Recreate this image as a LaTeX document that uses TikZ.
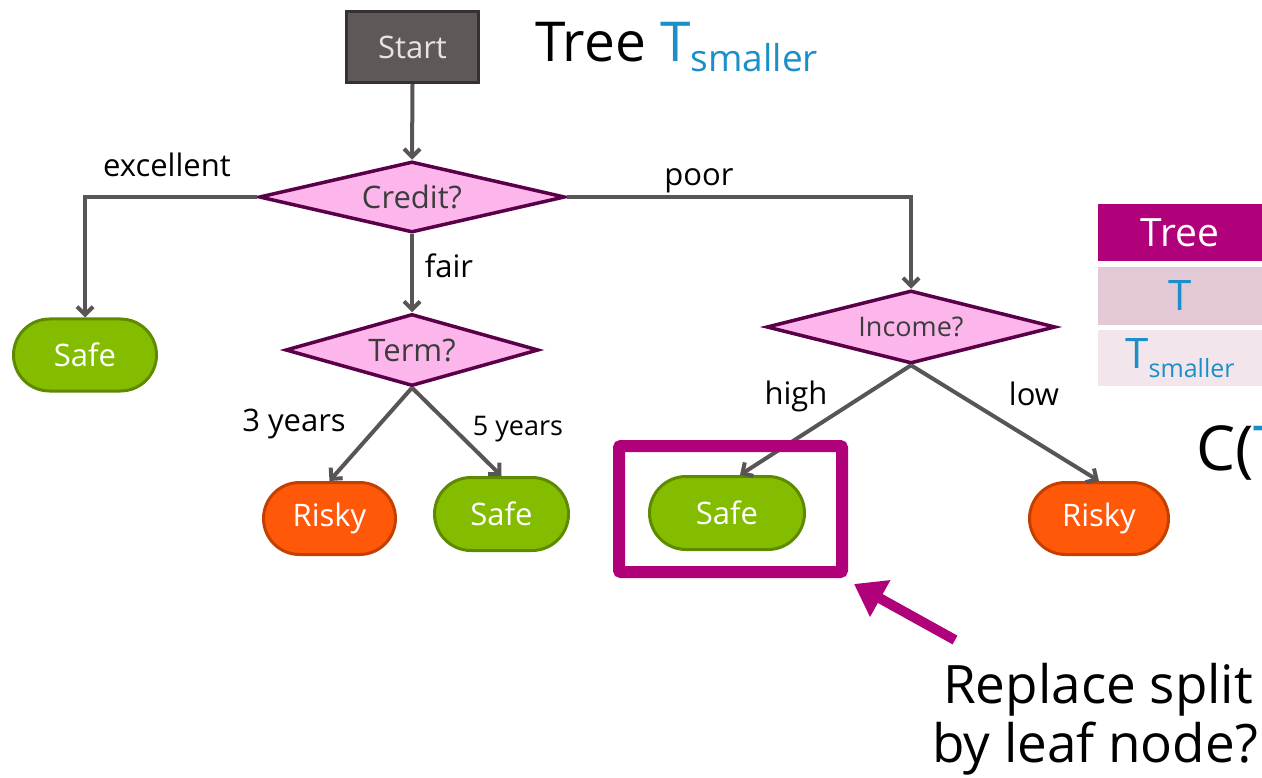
\documentclass[tikz,border=0pt]{standalone}
\usepackage{fontspec}
\setmainfont{Open Sans}
\usetikzlibrary{shapes.geometric,shapes.misc,arrows.meta,calc}

\definecolor{startfill}{HTML}{5F5858}
\definecolor{startline}{HTML}{363232}
\definecolor{starttext}{HTML}{E4E4E4}
\definecolor{dfill}{HTML}{FDB6EC}
\definecolor{dline}{HTML}{5A0048}
\definecolor{dtext}{HTML}{3C3C3C}
\definecolor{safefill}{HTML}{84BD00}
\definecolor{safeline}{HTML}{5E8A00}
\definecolor{riskfill}{HTML}{FF5808}
\definecolor{riskline}{HTML}{C44000}
\definecolor{arrgray}{HTML}{5A5555}
\definecolor{mag}{HTML}{B0007A}
\definecolor{tblue}{HTML}{1B8FC8}
\definecolor{rowa}{HTML}{E3C9D6}
\definecolor{rowb}{HTML}{F2E5EC}

\begin{document}
\begin{tikzpicture}[x=1pt,y=-1pt,
  fs/.style={font=\fontsize{#1}{#1}\selectfont},
  startbox/.style={rectangle, draw=startline, fill=startfill, line width=3pt,
    text=starttext, inner sep=0pt, minimum width=132pt, minimum height=71pt, fs=31},
  decision/.style={diamond, aspect=4, draw=dline, fill=dfill, line width=3.5pt,
    inner sep=0pt, text=dtext},
  leaf/.style={rounded rectangle, line width=3pt, text=white, inner sep=0pt,
    minimum height=72pt, fs=31},
  safeleaf/.style={leaf, draw=safeline, fill=safefill},
  riskleaf/.style={leaf, draw=riskline, fill=riskfill},
  arr/.style={draw=arrgray, line width=4pt, miter limit=10,
    -{Straight Barb[length=8pt,width=16pt]}},
  lbl/.style={anchor=base, inner sep=0pt, fs=31},
  cell/.style={rectangle, inner sep=0pt, minimum width=164pt},
]
\useasboundingbox (0,0) rectangle (1262,778);
\clip (0,0) rectangle (1262,778);

% title
\node[anchor=base west, inner sep=0pt, fs=55] (title) at (535,62)
  {Tree \textcolor{tblue}{T\raisebox{-10pt}{\fontsize{37}{37}\selectfont smaller}}};

% tree nodes
\node[startbox] (start) at (412.5,47) {Start};
\node[decision, fs=31, minimum width=306pt, minimum height=71pt] (credit) at (412,197) {Credit?};
\node[decision, fs=31, minimum width=253pt, minimum height=72pt] (term) at (412,350) {Term?};
\node[decision, fs=27, minimum width=289pt, minimum height=73pt] (income) at (911,327) {Income?};

\node[safeleaf, minimum width=143pt] (safeL) at (85,355) {Safe};
\node[riskleaf, minimum width=132pt] (risky1) at (329.5,518.5) {Risky};
\node[safeleaf, minimum width=134pt, minimum height=73pt] (safe2) at (501.5,514) {Safe};
\node[safeleaf, minimum width=155pt, minimum height=73pt] (safe3) at (727,513) {Safe};
\node[riskleaf, minimum width=139pt] (risky2) at (1099,518.5) {Risky};

% connectors
\draw[arr] (start.south) -- (credit.north);
\draw[arr] (credit.west) -| (safeL.north);
\draw[arr] (credit.east) -| (income.north);
\draw[arr] (credit.south) -- (term.north);
\draw[arr] (term.south) -- (risky1.north);
\draw[arr] (term.south) -- (safe2.north);
\draw[arr] (income.south) -- ($(safe3.north)+(13,0)$);
\draw[arr] (income.south) -- (risky2.north);

% branch labels
\node[lbl] (lexc) at (167,177) {excellent};
\node[lbl] (lpoor) at (699,186) {poor};
\node[lbl] (lfair) at (449,278) {fair};
\node[lbl] (l3y) at (294,431) {3 years};
\node[lbl, fs=27] (l5y) at (518,435) {5 years};
\node[lbl] (lhigh) at (796,404) {high};
\node[lbl] (llow) at (1034,405) {low};

% highlighted leaf and pointer
\node[rectangle, draw=mag, line width=12pt, rounded corners=2pt, inner sep=0pt,
  minimum width=223pt, minimum height=126pt] (hl) at (730.5,509) {};
\coordinate (ptr) at (955,640);
\draw[draw=mag, fill=mag, line width=10pt, -{Triangle[length=30pt,width=40pt]}]
  (ptr) -- ($(hl.south east)+(6,6)$);

\node[anchor=base west, inner sep=0pt, fs=53] (q1) at (943,703) {Replace split};
\node[anchor=base west, inner sep=0pt, fs=53] (q2) at (932,762) {by leaf node?};

% cost table
\node[cell, fill=mag, minimum height=57pt, text=white, fs=39] (th) at (1180,232.5) {Tree};
\node[cell, fill=rowa, minimum height=58pt, text=tblue, fs=42] (t1) at (1180,296) {T};
\node[cell, fill=rowb, minimum height=56pt, text=tblue, fs=42] (t2) at (1180,358)
  {T\raisebox{-9pt}{\fontsize{25}{25}\selectfont smaller}};

\node[anchor=base west, inner sep=0pt, fs=62] (cost) at (1196,470) {C(\textcolor{tblue}{T}};
\end{tikzpicture}
\end{document}
